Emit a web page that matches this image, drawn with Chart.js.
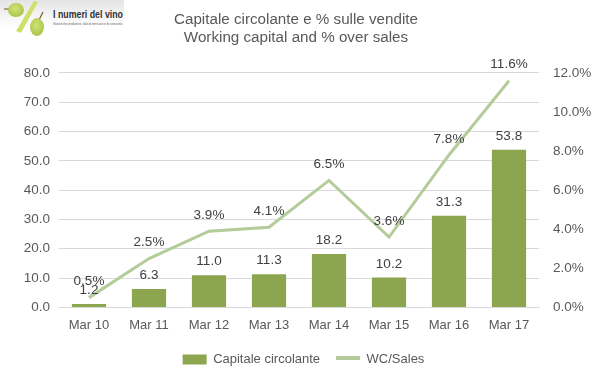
<!DOCTYPE html>
<html><head><meta charset="utf-8">
<style>
html,body{margin:0;padding:0;background:#fff;width:599px;height:378px;overflow:hidden}
#wrap{position:relative;width:599px;height:378px}
canvas{position:absolute;left:0;top:0}
#logo{position:absolute;left:0;top:0}
</style>
<script src="https://cdn.jsdelivr.net/npm/chart.js@4"></script>
</head><body><div id="wrap">
<svg id="logo" width="124" height="36" viewBox="0 0 124 36">
<defs>
<linearGradient id="bg" x1="0" y1="0" x2="0" y2="1"><stop offset="0" stop-color="#e4e4e4"/><stop offset=".75" stop-color="#fbfbfb"/><stop offset="1" stop-color="#fff"/></linearGradient>
<radialGradient id="gr" cx=".45" cy=".4" r=".7"><stop offset="0" stop-color="#d2e27a"/><stop offset="1" stop-color="#a3c03c"/></radialGradient>
</defs>
<rect width="124" height="30" fill="url(#bg)"/>
<path d="M4 9L10 9" stroke="#8a6a3a" stroke-width="1.2"/>
<ellipse cx="16" cy="10" rx="8" ry="7" fill="url(#gr)"/>
<path d="M16 31L34 1L38 2L21 33Z" fill="#cfe06a"/>
<path d="M39 20L43 12" stroke="#8a5a2a" stroke-width="1.2"/>
<ellipse cx="37" cy="27" rx="7" ry="9" fill="url(#gr)"/>
<text x="53" y="18" font-family="Liberation Sans" font-weight="700" font-size="11" fill="#333" textLength="70" lengthAdjust="spacingAndGlyphs">I numeri del vino</text>
<text x="53" y="25" font-family="Liberation Sans" font-size="3.4" fill="#666" textLength="70" lengthAdjust="spacingAndGlyphs">Statistiche produttive, dati di mercato e di consumo.</text>
</svg>
<canvas id="c" width="599" height="378"></canvas>
</div>
<script>
const categories = ["Mar 10","Mar 11","Mar 12","Mar 13","Mar 14","Mar 15","Mar 16","Mar 17"];
const workingCapital = [1.2,6.3,11.0,11.3,18.2,10.2,31.3,53.8];
const wcOverSales = [0.5,2.5,3.9,4.1,6.5,3.6,7.8,11.6];
const titleLines = ["Capitale circolante e % sulle vendite","Working capital and % over sales"];
const barName = "Capitale circolante";
const lineName = "WC/Sales";
const BAR="#8BA64E", LINE="#B3CC9A", TXT="#595959", GRID="#D9D9D9";
const FONT="'Liberation Sans', sans-serif";
const canvas=document.getElementById('c'), ctx=canvas.getContext('2d');
const g=ctx.createLinearGradient(0,353,0,363);
g.addColorStop(0,'rgba(0,0,0,0)');g.addColorStop(.33,'rgba(0,0,0,0)');
g.addColorStop(.33,LINE);g.addColorStop(.67,LINE);
g.addColorStop(.67,'rgba(0,0,0,0)');g.addColorStop(1,'rgba(0,0,0,0)');
const valueLabels={id:'valueLabels',
 afterLayout(ch){
  ch.titleBlock.left=-3.5;ch.titleBlock.right=ch.width-3.5;
  ch.legend.left=4;ch.legend.right=ch.width+4;
 },
 afterDatasetsDraw(ch){
  const c=ch.ctx;c.save();c.font="13.5px "+FONT;c.fillStyle="#404040";c.textAlign='center';c.textBaseline='middle';
  ch.getDatasetMeta(0).data.forEach((p,i)=>c.fillText(workingCapital[i].toFixed(1),p.x,p.y-13.5));
  ch.getDatasetMeta(1).data.forEach((p,i)=>c.fillText(wcOverSales[i].toFixed(1)+'%',p.x,p.y-16));
  c.restore();
}};
new Chart(ctx,{
 data:{labels:categories,datasets:[
  {type:'bar',label:barName,data:workingCapital,yAxisID:'y',backgroundColor:BAR,barPercentage:.57,categoryPercentage:1,order:2},
  {type:'line',label:lineName,data:wcOverSales,yAxisID:'y1',borderColor:LINE,backgroundColor:g,borderWidth:3,pointRadius:0,tension:0,order:1,borderCapStyle:'butt'}
 ]},
 options:{responsive:false,animation:false,
  layout:{padding:{top:0,left:0,right:0,bottom:2}},
  plugins:{
   title:{display:true,text:titleLines,color:TXT,font:{family:FONT,size:15.2,weight:'normal',lineHeight:1.18},padding:{top:11,bottom:26}},
   legend:{position:'bottom',labels:{boxWidth:24,boxHeight:10,color:TXT,font:{family:FONT,size:13},padding:16,
     sort:(a,b)=>a.datasetIndex-b.datasetIndex,
     generateLabels(ch){return Chart.defaults.plugins.legend.labels.generateLabels(ch).map(l=>({...l,lineWidth:0}));}}},
   tooltip:{enabled:false}
  },
  scales:{
   x:{grid:{display:false},border:{color:GRID},ticks:{color:TXT,font:{family:FONT,size:13},padding:2,maxRotation:0},afterFit(s){s.height+=2}},
   y:{position:'left',min:0,max:80,ticks:{stepSize:10,color:TXT,font:{family:FONT,size:13.5},padding:9,callback:v=>v.toFixed(1)},grid:{color:GRID,drawTicks:false},border:{display:false},afterFit(s){s.width=59}},
   y1:{position:'right',min:0,max:12,ticks:{stepSize:2,color:TXT,font:{family:FONT,size:13.5},padding:14,callback:v=>v.toFixed(1)+'%'},grid:{display:false,drawTicks:false},border:{display:false},afterFit(s){s.width=60}}
  }
 },
 plugins:[valueLabels]
});
</script></body></html>
